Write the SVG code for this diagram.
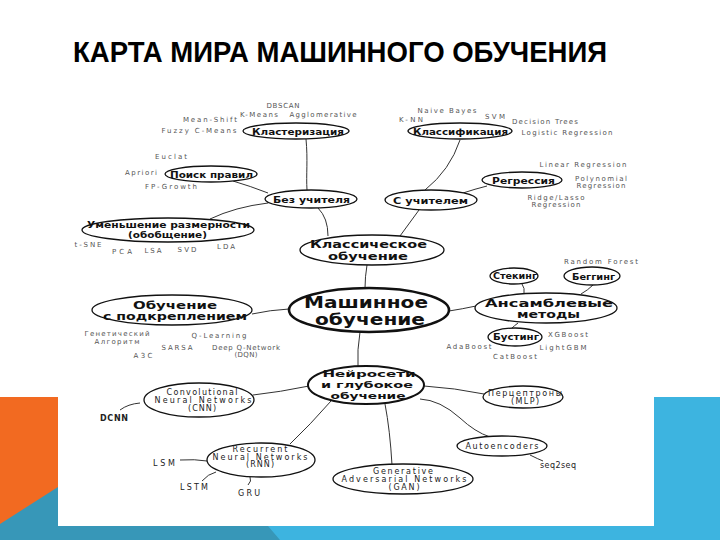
<svg xmlns="http://www.w3.org/2000/svg" width="720" height="540" viewBox="0 0 720 540">
<style>
.n{fill:#fff;stroke:#111;stroke-width:1.3}
.main{fill:#fff;stroke:#111;stroke-width:2.6}
.b{font-family:"DejaVu Sans",sans-serif;font-weight:bold;fill:#111;text-anchor:middle}
.s{font-family:"DejaVu Sans",sans-serif;fill:#555;font-size:7px;text-anchor:middle}
.t{font-family:"DejaVu Sans",sans-serif;fill:#222;font-size:8px;text-anchor:middle}
.c{fill:none;stroke:#333;stroke-width:1}
</style>
<rect width="720" height="540" fill="#fff"/>
<rect x="0" y="397" width="58" height="143" fill="#f26a21"/>
<rect x="654" y="397" width="66" height="143" fill="#3db4e0"/>
<rect x="0" y="526" width="720" height="14" fill="#3db4e0"/>
<polygon points="0,524 58,487 58,526 268,526 280,540 0,540" fill="#3797b8"/>
<text x="73" y="61.5" font-family="'Liberation Sans',sans-serif" font-weight="bold" font-size="30" textLength="534" lengthAdjust="spacingAndGlyphs" fill="#000">КАРТА МИРА МАШИННОГО ОБУЧЕНИЯ</text>

<g id="connectors">
<path class="c" d="M306,139 C308,160 306,175 307,190"/>
<path class="c" d="M233,181 Q250,186 268,193"/>
<path class="c" d="M268,203 Q235,207 210,219"/>
<path class="c" d="M318,208 Q328,218 328,236"/>
<path class="c" d="M460,140 Q450,170 425,190"/>
<path class="c" d="M463,193 Q475,189 487,186"/>
<path class="c" d="M419,210 L400,236"/>
<path class="c" d="M367,265 Q365,277 365,288"/>
<path class="c" d="M289,309 Q270,310 252,314"/>
<path class="c" d="M449,311 Q462,309 476,306"/>
<path class="c" d="M522,284 Q525,288 524,294"/>
<path class="c" d="M593,285 Q588,290 581,294"/>
<path class="c" d="M518,323 Q514,326 512,328"/>
<path class="c" d="M360,332 Q357,350 358,367"/>
<path class="c" d="M309,386 Q280,392 253,395"/>
<path class="c" d="M120,410 Q128,404 140,403"/>
<path class="c" d="M331,401 Q310,425 290,444"/>
<path class="c" d="M180,460 Q195,459 207,461"/>
<path class="c" d="M202,481 Q208,474 216,472"/>
<path class="c" d="M248,485 Q252,481 250,477"/>
<path class="c" d="M424,386 Q455,388 484,394"/>
<path class="c" d="M420,399 Q440,400 460,418 Q475,432 490,437"/>
<path class="c" d="M530,455 Q538,459 543,461"/>
<path class="c" d="M385,404 Q390,430 392,465"/>
</g>

<g id="clustering">
<ellipse class="n" cx="296" cy="131" rx="53" ry="8"/>
<text class="b" x="298" y="134.5" font-size="9.5" textLength="92" lengthAdjust="spacingAndGlyphs">Кластеризация</text>
<text class="s" x="283" y="108" textLength="33">DBSCAN</text>
<text class="s" x="259" y="117" textLength="38">K-Means</text>
<text class="s" x="323" y="117" textLength="67">Agglomerative</text>
<text class="s" x="210" y="122" textLength="54">Mean-Shift</text>
<text class="s" x="199" y="133" textLength="75">Fuzzy C-Means</text>
</g>
<g id="rules">
<ellipse class="n" cx="211" cy="174" rx="46" ry="8"/>
<text class="b" x="211.5" y="177.5" font-size="9.5" textLength="83" lengthAdjust="spacingAndGlyphs">Поиск правил</text>
<text class="s" x="171" y="159" textLength="32">Euclat</text>
<text class="s" x="141" y="175" textLength="32">Apriori</text>
<text class="s" x="171" y="189" textLength="52">FP-Growth</text>
</g>
<g id="unsupervised">
<ellipse class="n" cx="311" cy="199" rx="46" ry="9"/>
<text class="b" x="311.5" y="202.5" font-size="9.5" textLength="77" lengthAdjust="spacingAndGlyphs">Без учителя</text>
</g>
<g id="dimred">
<ellipse class="n" cx="168" cy="230" rx="86" ry="12"/>
<text class="b" x="168.5" y="227.5" font-size="8.5" textLength="163" lengthAdjust="spacingAndGlyphs">Уменьшение размерности</text>
<text class="b" x="167.5" y="237.5" font-size="8.5" textLength="79" lengthAdjust="spacingAndGlyphs">(обобщение)</text>
<text class="s" x="88" y="247" textLength="27">t-SNE</text>
<text class="s" x="122" y="254" textLength="20">PCA</text>
<text class="s" x="153" y="253" textLength="17">LSA</text>
<text class="s" x="187" y="252" textLength="19">SVD</text>
<text class="s" x="226" y="249" textLength="18">LDA</text>
</g>
<g id="classification">
<ellipse class="n" cx="460" cy="131" rx="52" ry="8"/>
<text class="b" x="460.5" y="134.5" font-size="9.5" textLength="95" lengthAdjust="spacingAndGlyphs">Классификация</text>
<text class="s" x="447" y="113" textLength="59">Naive Bayes</text>
<text class="s" x="411" y="122" textLength="24">K-NN</text>
<text class="s" x="495" y="119" textLength="20">SVM</text>
<text class="s" x="545" y="124" textLength="66">Decision Trees</text>
<text class="s" x="567" y="135" textLength="91">Logistic Regression</text>
</g>
<g id="regression">
<ellipse class="n" cx="522" cy="180" rx="40" ry="8"/>
<text class="b" x="523.5" y="183.5" font-size="9.5" textLength="63" lengthAdjust="spacingAndGlyphs">Регрессия</text>
<text class="s" x="583" y="167" textLength="87">Linear Regression</text>
<text class="s" x="601" y="181" textLength="52">Polynomial</text>
<text class="s" x="601" y="188" textLength="49">Regression</text>
<text class="s" x="556" y="200" textLength="57">Ridge/Lasso</text>
<text class="s" x="556" y="206.5" textLength="49">Regression</text>
</g>
<g id="supervised">
<ellipse class="n" cx="431" cy="200" rx="46" ry="10"/>
<text class="b" x="430.5" y="203.5" font-size="9.5" textLength="75" lengthAdjust="spacingAndGlyphs">С учителем</text>
</g>
<g id="classic">
<ellipse class="n" cx="372" cy="250" rx="72" ry="15"/>
<text class="b" x="368.5" y="248" font-size="10.5" textLength="117" lengthAdjust="spacingAndGlyphs">Классическое</text>
<text class="b" x="368" y="259.5" font-size="10.5" textLength="80" lengthAdjust="spacingAndGlyphs">обучение</text>
</g>
<g id="ml">
<ellipse class="main" cx="369" cy="310" rx="80" ry="22"/>
<text class="b" x="366" y="307.5" font-size="15" textLength="124" lengthAdjust="spacingAndGlyphs">Машинное</text>
<text class="b" x="370" y="325" font-size="15" textLength="110" lengthAdjust="spacingAndGlyphs">обучение</text>
</g>
<g id="rl">
<ellipse class="n" cx="172" cy="310" rx="80" ry="15"/>
<text class="b" x="175" y="308.5" font-size="10.5" textLength="84" lengthAdjust="spacingAndGlyphs">Обучение</text>
<text class="b" x="175" y="320" font-size="10.5" textLength="144" lengthAdjust="spacingAndGlyphs">с подкреплением</text>
<text class="s" x="117" y="336" textLength="65">Генетический</text>
<text class="s" x="117" y="344" textLength="45">Алгоритм</text>
<text class="s" x="219" y="338" textLength="55">Q-Learning</text>
<text class="s" x="177" y="350" textLength="31">SARSA</text>
<text class="s" x="246" y="350" textLength="68">Deep Q-Network</text>
<text class="s" x="246" y="356.5" textLength="23">(DQN)</text>
<text class="s" x="143" y="358" textLength="19">A3C</text>
</g>
<g id="ensemble">
<ellipse class="n" cx="546" cy="308" rx="71" ry="15"/>
<text class="b" x="549" y="306.5" font-size="10.5" textLength="128" lengthAdjust="spacingAndGlyphs">Ансамблевые</text>
<text class="b" x="548.5" y="318" font-size="10.5" textLength="63" lengthAdjust="spacingAndGlyphs">методы</text>
</g>
<g id="stacking">
<ellipse class="n" cx="514" cy="276" rx="24" ry="8"/>
<text class="b" x="515" y="279" font-size="8" textLength="44" lengthAdjust="spacingAndGlyphs">Стекинг</text>
</g>
<g id="bagging">
<ellipse class="n" cx="592" cy="276" rx="28" ry="9"/>
<text class="b" x="593.5" y="279.5" font-size="8" textLength="43" lengthAdjust="spacingAndGlyphs">Беггинг</text>
<text class="s" x="601" y="264" textLength="74">Random Forest</text>
</g>
<g id="boosting">
<ellipse class="n" cx="515" cy="337" rx="27" ry="9"/>
<text class="b" x="516" y="340" font-size="8" textLength="46" lengthAdjust="spacingAndGlyphs">Бустинг</text>
<text class="s" x="568" y="337" textLength="40">XGBoost</text>
<text class="s" x="469" y="349" textLength="45">AdaBoost</text>
<text class="s" x="563" y="350" textLength="47">LightGBM</text>
<text class="s" x="515" y="359" textLength="44">CatBoost</text>
</g>
<g id="nn">
<ellipse class="main" cx="366" cy="385" rx="58" ry="19" style="stroke-width:2"/>
<text class="b" x="369" y="377" font-size="9.5" textLength="93" lengthAdjust="spacingAndGlyphs">Нейросети</text>
<text class="b" x="367" y="388" font-size="9.5" textLength="92" lengthAdjust="spacingAndGlyphs">и глубокое</text>
<text class="b" x="368" y="399" font-size="9.5" textLength="75" lengthAdjust="spacingAndGlyphs">обучение</text>
</g>
<g id="cnn">
<ellipse class="n" cx="199" cy="400" rx="55" ry="17"/>
<text class="t" x="202" y="395" textLength="71">Convolutional</text>
<text class="t" x="203" y="403" textLength="97">Neural Networks</text>
<text class="t" x="202" y="410.5" textLength="28">(CNN)</text>
<text class="t" x="114" y="421" textLength="28" font-weight="bold">DCNN</text>
</g>
<g id="rnn">
<ellipse class="n" cx="261" cy="460" rx="54" ry="17"/>
<text class="t" x="260" y="452" textLength="55">Recurrent</text>
<text class="t" x="260" y="459.5" textLength="95">Neural Networks</text>
<text class="t" x="260" y="467" textLength="28">(RNN)</text>
<text class="t" x="164" y="466" textLength="22">LSM</text>
<text class="t" x="194" y="490" textLength="28">LSTM</text>
<text class="t" x="249" y="496" textLength="22">GRU</text>
</g>
<g id="mlp">
<ellipse class="n" cx="523" cy="397" rx="40" ry="11"/>
<text class="t" x="525" y="396" textLength="74">Перцептроны</text>
<text class="t" x="525" y="404" textLength="28">(MLP)</text>
</g>
<g id="autoencoders">
<ellipse class="n" cx="502" cy="446" rx="45" ry="10"/>
<text class="t" x="502" y="449" textLength="73">Autoencoders</text>
<text class="t" x="558" y="468" textLength="36" font-size="7">seq2seq</text>
</g>
<g id="gan">
<ellipse class="n" cx="403" cy="479" rx="70" ry="15"/>
<text class="t" x="403" y="474" textLength="60">Generative</text>
<text class="t" x="404" y="482" textLength="125">Adversarial Networks</text>
<text class="t" x="404" y="490" textLength="31">(GAN)</text>
</g>
</svg>
